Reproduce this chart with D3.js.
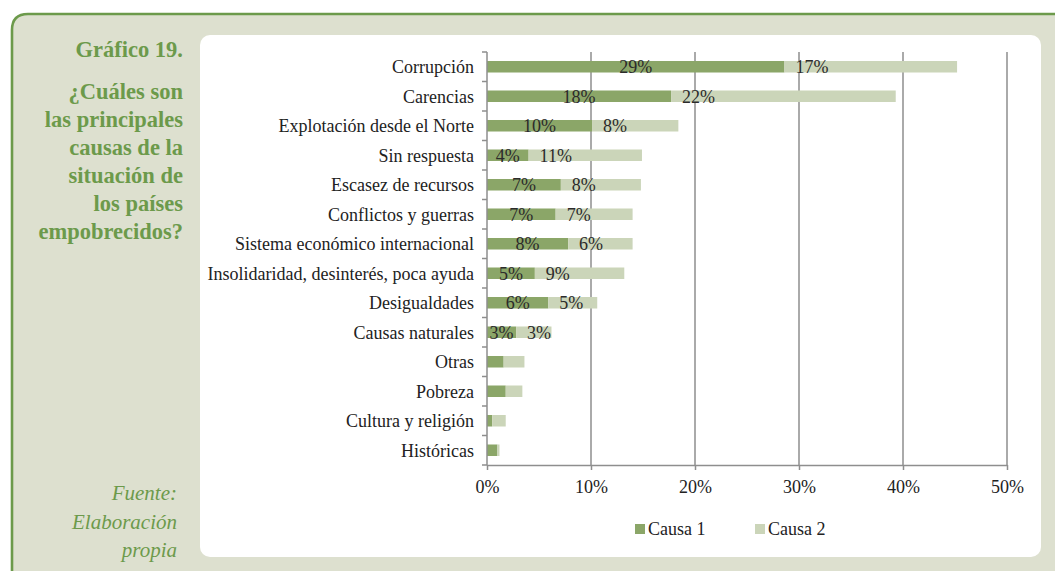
<!DOCTYPE html>
<html>
<head>
<meta charset="utf-8">
<script src="https://cdn.jsdelivr.net/npm/d3@7"></script>
<style>
  html, body { margin: 0; padding: 0; background: #ffffff; }
  svg { display: block; }
  text { font-family: "Liberation Serif", "Times New Roman", serif; }
</style>
</head>
<body>
<svg id="chart" width="1055" height="571"></svg>
<script>
// Causes of the situation of impoverished countries (share of answers)
const categories = [
  "Corrupción",
  "Carencias",
  "Explotación desde el Norte",
  "Sin respuesta",
  "Escasez de recursos",
  "Conflictos y guerras",
  "Sistema económico internacional",
  "Insolidaridad, desinterés, poca ayuda",
  "Desigualdades",
  "Causas naturales",
  "Otras",
  "Pobreza",
  "Cultura y religión",
  "Históricas"
];
const causa1 = [0.286, 0.177, 0.101, 0.040, 0.071, 0.066, 0.078, 0.046, 0.059, 0.028, 0.016, 0.018, 0.005, 0.010];
const causa2 = [0.166, 0.216, 0.083, 0.109, 0.077, 0.074, 0.062, 0.086, 0.047, 0.034, 0.020, 0.016, 0.013, 0.002];
const seriesNames = ["Causa 1", "Causa 2"];
const xTicks = [0, 0.1, 0.2, 0.3, 0.4, 0.5];
const titleLines = ["¿Cuáles son", "las principales", "causas de la", "situación de", "los países", "empobrecidos?"];
const sourceLines = ["Fuente:", "Elaboración", "propia"];

const green = "#6c9a4b";
const colors = ["#8ba668", "#cbd5b9"];
const axisGrey = "#8e8e8e";
const labelMin = 0.025; // small segments carry no value label

const plotTop = 52, plotBottom = 465;

const svg = d3.select("#chart");

// Frame: tinted panel with a green rule on top and left
svg.append("path")
  .attr("d", "M12,571 V30 Q12,14 28,14 H1055 V571 Z")
  .attr("fill", "#dde0cf");
svg.append("path")
  .attr("d", "M12,571 V30 Q12,14 28,14 H1055")
  .attr("fill", "none")
  .attr("stroke", green)
  .attr("stroke-width", 2.6);

// White plot card
svg.append("rect")
  .attr("x", 200).attr("y", 35)
  .attr("width", 841).attr("height", 522)
  .attr("rx", 10).attr("ry", 10)
  .attr("fill", "#ffffff");

// Side title
svg.append("text")
  .attr("x", 183).attr("y", 57)
  .attr("text-anchor", "end")
  .attr("font-size", 22.5).attr("font-weight", "bold")
  .attr("fill", green)
  .text("Gráfico 19.");
svg.append("g").selectAll("text")
  .data(titleLines).join("text")
  .attr("x", 183).attr("y", (d, i) => 98.5 + i * 28.1)
  .attr("text-anchor", "end")
  .attr("font-size", 22.5).attr("font-weight", "bold")
  .attr("fill", green)
  .text(d => d);

// Source note
svg.append("g").selectAll("text")
  .data(sourceLines).join("text")
  .attr("x", 177).attr("y", (d, i) => 500 + i * 28.5)
  .attr("text-anchor", "end")
  .attr("font-size", 21).attr("font-style", "italic")
  .attr("fill", green)
  .text(d => d);

// Scales
const x = d3.scaleLinear().domain([0, 0.5]).range([487, 1007]);
const y = d3.scaleBand().domain(categories).range([plotTop, plotBottom])
  .paddingInner(0.61).paddingOuter(0.305);
const step = y.step();
const fmt = d3.format(".0%");

// Vertical gridlines
svg.append("g").selectAll("line")
  .data(xTicks.slice(1)).join("line")
  .attr("x1", d => x(d)).attr("x2", d => x(d))
  .attr("y1", plotTop).attr("y2", plotBottom)
  .attr("stroke", axisGrey).attr("stroke-width", 1.5);

// Stacked bars
const rows = categories.map((c, i) => ({ cat: c, v: [causa1[i], causa2[i]] }));
const segs = [];
rows.forEach(r => {
  let start = 0;
  r.v.forEach((v, s) => {
    segs.push({ cat: r.cat, s, x0: start, x1: start + v, v });
    start += v;
  });
});

svg.append("g").selectAll("rect")
  .data(segs).join("rect")
  .attr("x", d => x(d.x0))
  .attr("y", d => y(d.cat))
  .attr("width", d => x(d.x1) - x(d.x0))
  .attr("height", y.bandwidth())
  .attr("fill", d => colors[d.s]);

// Value labels: first series centred, second series at the segment base
svg.append("g").selectAll("text")
  .data(segs.filter(d => d.v >= labelMin)).join("text")
  .attr("x", d => d.s === 0 ? (x(d.x0) + x(d.x1)) / 2 : x(d.x0) + 11)
  .attr("y", d => y(d.cat) + y.bandwidth() / 2)
  .attr("dy", "0.35em")
  .attr("text-anchor", d => d.s === 0 ? "middle" : "start")
  .attr("font-size", 18)
  .attr("fill", "#2b2b2b")
  .text(d => fmt(d.v));

// Category axis
const yAxis = svg.append("g");
yAxis.append("line")
  .attr("x1", 487).attr("x2", 487).attr("y1", plotTop).attr("y2", plotBottom)
  .attr("stroke", axisGrey).attr("stroke-width", 1.5);
yAxis.selectAll("line.tick")
  .data(d3.range(categories.length + 1)).join("line")
  .attr("class", "tick")
  .attr("x1", 482).attr("x2", 487)
  .attr("y1", i => plotTop + i * step).attr("y2", i => plotTop + i * step)
  .attr("stroke", axisGrey).attr("stroke-width", 1.5);
yAxis.selectAll("text")
  .data(categories).join("text")
  .attr("x", 474)
  .attr("y", d => y(d) + y.bandwidth() / 2)
  .attr("dy", "0.35em")
  .attr("text-anchor", "end")
  .attr("font-size", 18)
  .attr("fill", "#222")
  .text(d => d);

// Value axis
const xAxis = svg.append("g")
  .attr("transform", `translate(0,${plotBottom})`)
  .call(d3.axisBottom(x).tickValues(xTicks).tickFormat(fmt).tickSize(5).tickSizeOuter(0));
xAxis.select(".domain").attr("stroke", axisGrey).attr("stroke-width", 1.5);
xAxis.selectAll(".tick line").attr("stroke", axisGrey).attr("stroke-width", 1.5);
xAxis.selectAll(".tick text")
  .attr("font-size", 18)
  .attr("fill", "#222")
  .attr("y", 15);

// Legend
const legend = svg.append("g").attr("transform", "translate(635,529)");
const items = legend.selectAll("g")
  .data(seriesNames).join("g")
  .attr("transform", (d, i) => `translate(${i * 120},0)`);
items.append("rect")
  .attr("x", 0).attr("y", -5)
  .attr("width", 10).attr("height", 10)
  .attr("fill", (d, i) => colors[i]);
items.append("text")
  .attr("x", 13).attr("y", 0)
  .attr("dy", "0.35em")
  .attr("font-size", 18)
  .attr("fill", "#222")
  .text(d => d);
</script>
</body>
</html>
